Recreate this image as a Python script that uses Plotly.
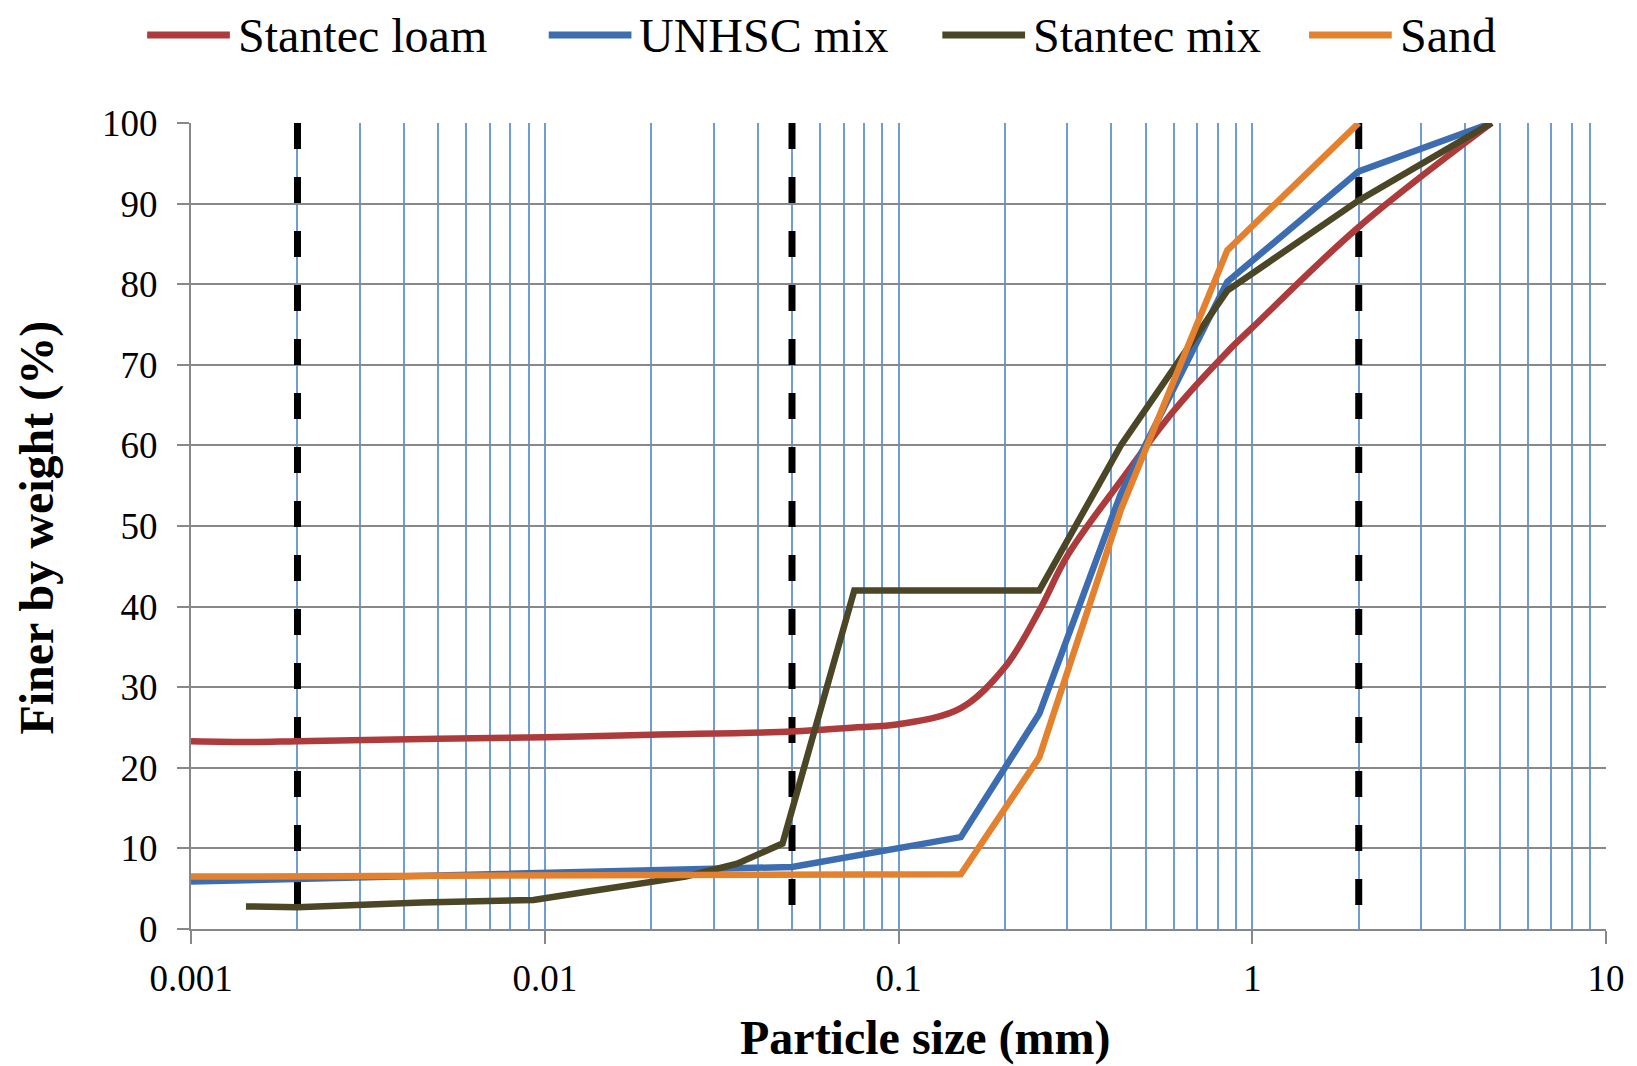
import plotly.graph_objects as go

# Grain-size distribution curves (percent finer by weight vs particle size, mm)
series_names = ["Stantec loam", "UNHSC mix", "Stantec mix", "Sand"]
series_colors = ["#AE3B3C", "#3D6DB1", "#4A4626", "#E4812F"]

loam_size = [0.001, 0.0015, 0.002, 0.005, 0.01, 0.02, 0.05, 0.075, 0.1, 0.15,
             0.2, 0.25, 0.3, 0.425, 0.6, 0.85, 1.0, 2.0, 4.75]
loam_finer = [23.3, 23.2, 23.3, 23.6, 23.8, 24.1, 24.5, 25.0, 25.4, 27.4,
              32.5, 39.5, 46.3, 55.6, 64.3, 71.6, 74.6, 87.1, 100.0]

unhsc_size = [0.001, 0.002, 0.005, 0.01, 0.02, 0.05, 0.15, 0.25, 0.425, 0.85, 2.0, 4.75]
unhsc_finer = [5.9, 6.2, 6.6, 6.9, 7.2, 7.7, 11.4, 26.7, 54.0, 80.3, 94.0, 100.0]

stantec_mix_size = [0.00143, 0.002, 0.0045, 0.0093, 0.013, 0.019, 0.025, 0.035, 0.047,
                    0.075, 0.15, 0.25, 0.425, 0.85, 2.0, 4.75]
stantec_mix_finer = [2.8, 2.7, 3.3, 3.6, 4.6, 5.6, 6.5, 8.1, 10.6,
                     42.0, 42.0, 42.0, 60.0, 79.2, 90.4, 100.0]

sand_size = [0.001, 0.01, 0.05, 0.15, 0.25, 0.425, 0.85, 2.0]
sand_finer = [6.5, 6.6, 6.7, 6.8, 21.3, 52.0, 84.2, 100.0]

# Clay / silt / sand / gravel class boundaries (mm)
class_bounds = [0.002, 0.05, 2.0]

x_tick_vals = [0.001, 0.01, 0.1, 1, 10]
x_tick_text = ["0.001", "0.01", "0.1", "1", "10"]
y_tick_vals = [0, 10, 20, 30, 40, 50, 60, 70, 80, 90, 100]

FONT = "Liberation Serif"
GRID_BLUE = "#6F9ED6"
GRID_GREY = "#888888"

fig = go.Figure()

# dashed boundaries drawn top-down so the dash pattern starts at 100 %
for xb in class_bounds:
    fig.add_trace(go.Scatter(
        x=[xb, xb], y=[100, 0], mode="lines",
        line=dict(color="black", width=7, dash="26px,28px"),
        showlegend=False, hoverinfo="skip"))

curves = [
    (loam_size, loam_finer, "spline"),
    (unhsc_size, unhsc_finer, "linear"),
    (stantec_mix_size, stantec_mix_finer, "linear"),
    (sand_size, sand_finer, "linear"),
]
for (xs, ys, shape), name, color in zip(curves, series_names, series_colors):
    line = dict(color=color, width=6.5, shape=shape)
    if shape == "spline":
        line["smoothing"] = 1.0
    fig.add_trace(go.Scatter(x=xs, y=ys, mode="lines", name=name,
                             line=line, showlegend=False))

minor_vals = [m * 10 ** e for e in range(-3, 1) for m in range(2, 10)]

fig.update_xaxes(
    type="log", range=[-3, 1],
    tickmode="array", tickvals=x_tick_vals, ticktext=x_tick_text,
    ticks="outside", ticklen=13, tickwidth=1.5, tickcolor=GRID_GREY,
    ticklabelstandoff=3,
    showgrid=True, gridcolor=GRID_BLUE, gridwidth=1.5,
    minor=dict(tickvals=minor_vals, showgrid=True, gridcolor=GRID_BLUE,
               gridwidth=1.5, ticks=""),
    showline=True, linecolor=GRID_GREY, linewidth=2,
    zeroline=False,
    tickfont=dict(family=FONT, size=37, color="black"),
)
fig.update_yaxes(
    range=[0, 100], tickmode="array", tickvals=y_tick_vals,
    ticks="outside", ticklen=12, tickwidth=1.5, tickcolor=GRID_GREY,
    ticklabelstandoff=12,
    showgrid=True, gridcolor=GRID_GREY, gridwidth=1.8,
    showline=True, linecolor=GRID_GREY, linewidth=2,
    zeroline=False,
    tickfont=dict(family=FONT, size=37, color="black"),
)

W, H = 1637, 1066
ML, MR, MT, MB = 191, 26, 123, 137
PW, PH = W - ML - MR, H - MT - MB


def px_to_paper(px, py):
    return (px - ML) / PW, (H - MB - py) / PH


# Legend row across the top
legend_line_x = [147, 550, 945, 1313]
legend_y = 35
shapes = []
annotations = []
for x0, name, color in zip(legend_line_x, series_names, series_colors):
    xa, ya = px_to_paper(x0, legend_y)
    xb, _ = px_to_paper(x0 + 83, legend_y)
    shapes.append(dict(type="line", xref="paper", yref="paper",
                       x0=xa, x1=xb, y0=ya, y1=ya,
                       line=dict(color=color, width=7)))
    xt, _ = px_to_paper(x0 + 89, legend_y)
    annotations.append(dict(xref="paper", yref="paper", x=xt, y=ya,
                            xanchor="left", yanchor="middle", showarrow=False,
                            text=name, font=dict(family=FONT, size=48, color="black")))

# Axis titles
tx, ty = px_to_paper(928, 1038)
annotations.append(dict(xref="paper", yref="paper", x=tx, y=ty,
                        xanchor="center", yanchor="middle", showarrow=False,
                        text="<b>Particle size (mm)</b>",
                        font=dict(family=FONT, size=48, color="black")))
tx, ty = px_to_paper(36, 528)
annotations.append(dict(xref="paper", yref="paper", x=tx, y=ty,
                        xanchor="center", yanchor="middle", showarrow=False,
                        textangle=-90,
                        text="<b>Finer by weight (%)</b>",
                        font=dict(family=FONT, size=48, color="black")))

fig.update_layout(
    width=W, height=H, autosize=False,
    margin=dict(l=ML, r=MR, t=MT, b=MB),
    paper_bgcolor="white", plot_bgcolor="white",
    showlegend=False,
    shapes=shapes, annotations=annotations,
)

fig.write_html("out.html")
